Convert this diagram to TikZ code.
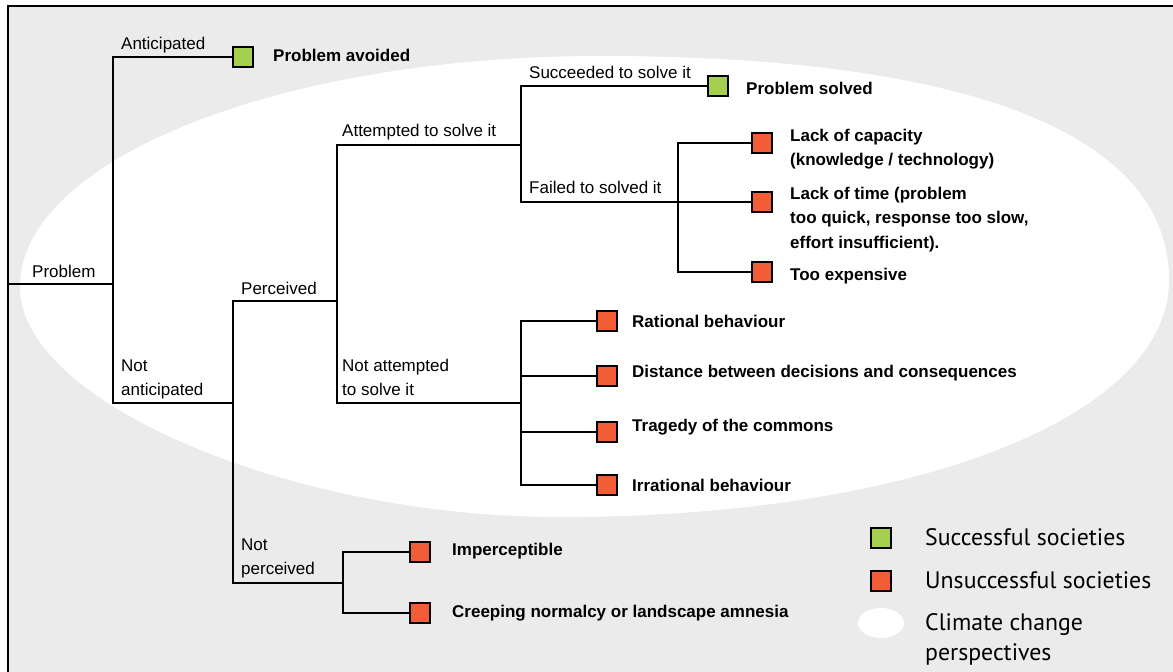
\documentclass[tikz,border=0pt]{standalone}
\usepackage{fontspec}
\usetikzlibrary{shapes.geometric}
\setmainfont{Liberation Sans}
\newfontfamily\legfont{PT Sans}
\definecolor{bg}{HTML}{EBEBEB}
\definecolor{okgreen}{HTML}{A5CF4F}
\definecolor{badred}{HTML}{F25C36}
\newcommand{\mlines}[1]{\begin{tabular}[t]{@{}l@{}}#1\end{tabular}}
\begin{document}
\begin{tikzpicture}[x=1pt,y=-1pt,
  lbl/.style={anchor=base west, inner sep=0pt, font=\fontsize{17}{24.5}\selectfont},
  res/.style={anchor=base west, inner sep=0pt, font=\fontsize{17}{24.5}\selectfont\bfseries},
  sq/.style={draw=black, line width=1.5pt, minimum size=20pt, inner sep=0pt},
  good/.style={sq, fill=okgreen},
  bad/.style={sq, fill=badred},
  br/.style={line width=1.6pt, line cap=rect},
  leg/.style={anchor=base west, inner sep=0pt, font=\legfont\fontsize{23.8}{30}\selectfont}]
\useasboundingbox (0,0) rectangle (1173,672);
% background and frame
\fill[white] (0,0) rectangle (1173,672);
\fill[bg] (7.5,5.5) rectangle (1173,672);
\draw[line width=2pt] (7.5,672) -- (7.5,5.5) -- (1173,5.5);
% climate change perspectives region
\fill[white] (20,287) .. controls (20,159.5) and (279.8,56) .. (600,56)
  .. controls (969.9,56) and (1169,134.4) .. (1169,280)
  .. controls (1169,417.5) and (913.2,517) .. (560,517)
  .. controls (290,517) and (20,402) .. (20,287) -- cycle;

% junction coordinates
\coordinate (root) at (8,284);
\coordinate (j1) at (113,284);
\coordinate (j1a) at (113,57);
\coordinate (j1b) at (113,403);
\coordinate (j2) at (233,403);
\coordinate (j2a) at (233,301);
\coordinate (j2b) at (233,583);
\coordinate (j3) at (337,301);
\coordinate (j3a) at (337,145);
\coordinate (j3b) at (337,403);
\coordinate (j4) at (521,145);
\coordinate (j4a) at (521,86);
\coordinate (j4b) at (521,202);
\coordinate (j5a) at (678,143);
\coordinate (j5b) at (678,272);
\coordinate (j6) at (521,403);
\coordinate (j6a) at (521,321);
\coordinate (j6b) at (521,376);
\coordinate (j6c) at (521,432);
\coordinate (j6d) at (521,485);
\coordinate (j7) at (343,583);
\coordinate (j7a) at (343,552);
\coordinate (j7b) at (343,613);

% outcome squares
\node[good] (sqAvoid) at (243,57) {};
\node[good] (sqSolved) at (718,86) {};
\node[bad] (sqCap) at (762,143) {};
\node[bad] (sqTime) at (762,202) {};
\node[bad] (sqExp) at (762,272) {};
\node[bad] (sqRat) at (607,321) {};
\node[bad] (sqDist) at (607,376) {};
\node[bad] (sqTrag) at (607,432) {};
\node[bad] (sqIrr) at (607,485) {};
\node[bad] (sqImp) at (420,552) {};
\node[bad] (sqCreep) at (420,613) {};

% branches
\draw[br] (root) -- (j1);
\draw[br] (j1a) -- (j1b);
\draw[br] (j1a) -- (sqAvoid.west);
\draw[br] (j1b) -- (j2);
\draw[br] (j2a) -- (j2b);
\draw[br] (j2a) -- (j3);
\draw[br] (j3a) -- (j3b);
\draw[br] (j3a) -- (j4);
\draw[br] (j4a) -- (j4b);
\draw[br] (j4a) -- (sqSolved.west);
\draw[br] (j4b) -- (sqTime.west);
\draw[br] (j5a) -- (j5b);
\draw[br] (j5a) -- (sqCap.west);
\draw[br] (j5b) -- (sqExp.west);
\draw[br] (j3b) -- (j6);
\draw[br] (j6a) -- (j6d);
\draw[br] (j6a) -- (sqRat.west);
\draw[br] (j6b) -- (sqDist.west);
\draw[br] (j6c) -- (sqTrag.west);
\draw[br] (j6d) -- (sqIrr.west);
\draw[br] (j2b) -- (j7);
\draw[br] (j7a) -- (j7b);
\draw[br] (j7a) -- (sqImp.west);
\draw[br] (j7b) -- (sqCreep.west);

% branch labels
\node[lbl] (tProblem) at (32,277) {Problem};
\node[lbl] (tAnt) at (121,49) {Anticipated};
\node[lbl] (tNotAnt) at (121,371) {\mlines{Not\\anticipated}};
\node[lbl] (tPerc) at (241,294) {Perceived};
\node[lbl] (tNotPerc) at (241,550) {\mlines{Not\\perceived}};
\node[lbl] (tAtt) at (342,136) {Attempted to solve it};
\node[lbl] (tNotAtt) at (342,371) {\mlines{Not attempted\\to solve it}};
\node[lbl] (tSucc) at (529,78) {Succeeded to solve it};
\node[lbl] (tFail) at (529,193) {Failed to solved it};

% outcome labels
\node[res] (rAvoid) at (273,61) {Problem avoided};
\node[res] (rSolved) at (746,94) {Problem solved};
\node[res] (rCap) at (790,141) {\mlines{Lack of capacity\\(knowledge / technology)}};
\node[res] (rTime) at (790,199) {\mlines{Lack of time (problem\\too quick, response too slow,\\effort insufficient).}};
\node[res] (rExp) at (790,280) {Too expensive};
\node[res] (rRat) at (632,327) {Rational behaviour};
\node[res] (rDist) at (632,377) {Distance between decisions and consequences};
\node[res] (rTrag) at (632,431) {Tragedy of the commons};
\node[res] (rIrr) at (632,491) {Irrational behaviour};
\node[res] (rImp) at (452,555) {Imperceptible};
\node[res] (rCreep) at (452,617) {Creeping normalcy or landscape amnesia};

% legend
\node[good] (lgGood) at (881,538) {};
\node[bad] (lgBad) at (881,581) {};
\node[fill=white, ellipse, minimum width=46pt, minimum height=30pt, inner sep=0pt] (lgCc) at (881,623) {};
\node[leg] (lgtGood) at (925,545) {Successful societies};
\node[leg] (lgtBad) at (925,588) {Unsuccessful societies};
\node[leg] (lgtCc) at (925,630) {\mlines{Climate change\\perspectives}};
\end{tikzpicture}
\end{document}
